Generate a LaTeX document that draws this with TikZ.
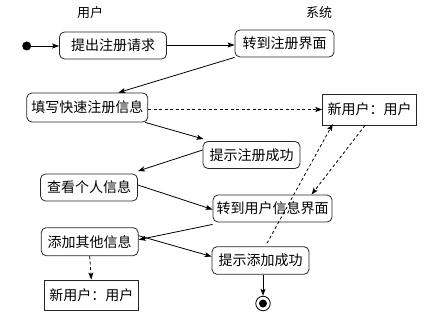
\documentclass[tikz,border=0pt]{standalone}
\usepackage{fontspec}
\newfontfamily\cjk{Noto Sans CJK SC}
\usetikzlibrary{arrows.meta}
\begin{document}
\begin{tikzpicture}[x=1pt,y=-1pt,
  act/.style={draw=black!85,line width=0.8pt,rounded corners=5pt,inner sep=0pt,
    font=\cjk\fontsize{14pt}{16pt}\selectfont,minimum height=27pt},
  obj/.style={draw=black!85,line width=0.8pt,inner sep=0pt,
    font=\cjk\fontsize{14pt}{16pt}\selectfont,minimum height=30pt,minimum width=94pt},
  lane/.style={font=\cjk\fontsize{13pt}{15pt}\selectfont,inner sep=0pt},
  flow/.style={line width=0.8pt,-{Stealth[length=7pt,width=5pt,inset=1.5pt]}},
  dep/.style={flow,dash pattern=on 3pt off 2.5pt}]
\useasboundingbox (0,0) rectangle (435,318);
\node[lane] (lu) at (90,12.5) {用户};
\node[lane] (ls) at (319,12.5) {系统};
\node[circle,fill=black,inner sep=0pt,minimum size=9pt] (start) at (26.7,46) {};
\node[act,minimum width=107pt] (n1) at (113,45.5) {提出注册请求};
\node[act,minimum width=99pt] (n2) at (284.5,43.5) {转到注册界面};
\node[act,minimum width=121pt,minimum height=29pt] (n3) at (87.3,107.5) {填写快速注册信息};
\node[obj,minimum height=31pt] (o1) at (369.7,109.5) {新用户：用户};
\node[act,minimum width=97pt] (n4) at (251.5,155) {提示注册成功};
\node[act,minimum width=97pt] (n5) at (89,187.5) {查看个人信息};
\node[act,minimum width=119pt] (n6) at (272.5,208.5) {转到用户信息界面};
\node[act,minimum width=97pt,minimum height=28pt] (n7) at (89.7,241.7) {添加其他信息};
\node[act,minimum width=97pt,minimum height=27.6pt] (n8) at (260.5,260.5) {提示添加成功};
\node[obj] (o2) at (91.3,295) {新用户：用户};
\node[circle,draw=black,line width=0.8pt,inner sep=0pt,minimum size=14.5pt] (end) at (263,303.5) {};
\fill[black] (end.center) circle (4pt);
% control flow
\draw[flow] (start) -- (n1.west |- start);
\draw[flow] (n1.east |- 0,45) -- (n2.west |- 0,45);
\draw[flow] (n2.south west) -- ([xshift=31pt]n3.north);
\draw[flow] ([xshift=-3pt]n3.south east) -- ([xshift=1pt,yshift=2pt]n4.north west);
\draw[flow] ([yshift=5pt]n4.west) -- ([yshift=2.5pt]n5.north east);
\draw[flow] ([yshift=2.5pt]n5.east) -- ([yshift=-1pt]n6.west);
\draw[flow] ([yshift=-2pt]n6.south west) -- ([yshift=2pt]n7.east);
\draw[flow] ([yshift=6pt]n7.east) -- ([yshift=4pt]n8.west);
\draw[flow] (end |- n8.south) -- (end.north);
% object flow
\draw[dep] (n3.east |- 0,109.5) -- (o1.west |- 0,109.5);
\draw[dep] (n7.south) -- (o2.north);
\draw[dep] ([xshift=6.5pt,yshift=3pt]n8.north) -- ([xshift=10.5pt,yshift=1.5pt]o1.south west);
\draw[dep] ([xshift=-4.7pt]o1.south) -- ([xshift=39pt]n6.north);
\end{tikzpicture}
\end{document}
